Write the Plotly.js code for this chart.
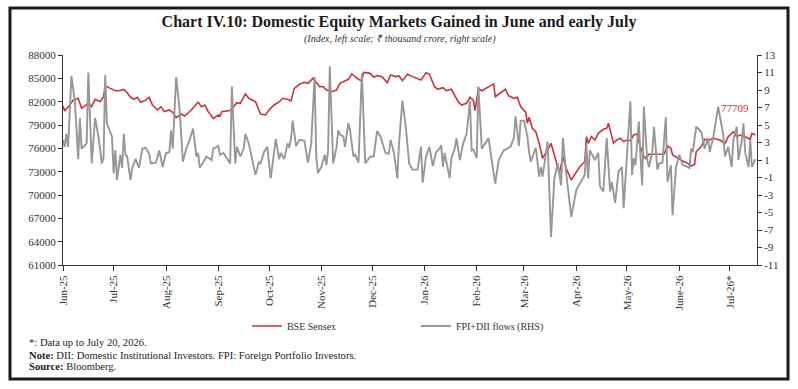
<!DOCTYPE html>
<html>
<head>
<meta charset="utf-8">
<script src="https://cdn.plot.ly/plotly-3.0.1.min.js"></script>
<style>
  html, body { margin: 0; padding: 0; background: #fff; }
  #chart { width: 798px; height: 389px; }
</style>
</head>
<body>
<div id="chart"></div>
<script>
// BSE Sensex, daily close (index, left scale)
const sensexDates = [
  '2025-06-01','2025-06-02','2025-06-05','2025-06-07','2025-06-10','2025-06-12','2025-06-16','2025-06-18','2025-06-20','2025-06-23',
  '2025-06-25','2025-06-26','2025-06-29','2025-07-02','2025-07-04','2025-07-07','2025-07-09','2025-07-11','2025-07-13','2025-07-15',
  '2025-07-17','2025-07-20','2025-07-22','2025-07-24','2025-07-27','2025-07-29','2025-07-31','2025-08-03','2025-08-05','2025-08-07',
  '2025-08-10','2025-08-12','2025-08-16','2025-08-20','2025-08-22','2025-08-24','2025-08-26','2025-08-29','2025-09-01','2025-09-02',
  '2025-09-03','2025-09-08','2025-09-10','2025-09-12','2025-09-14','2025-09-17','2025-09-19','2025-09-23','2025-09-26','2025-09-29',
  '2025-10-01','2025-10-04','2025-10-07','2025-10-09','2025-10-12','2025-10-14','2025-10-16','2025-10-19','2025-10-22','2025-10-24',
  '2025-10-27','2025-10-28','2025-10-31','2025-11-02','2025-11-04','2025-11-07','2025-11-10','2025-11-12','2025-11-15','2025-11-17',
  '2025-11-19','2025-11-23','2025-11-25','2025-11-26','2025-11-30','2025-12-02','2025-12-04','2025-12-07','2025-12-10','2025-12-12',
  '2025-12-15','2025-12-17','2025-12-19','2025-12-22','2025-12-25','2025-12-28','2025-12-30','2026-01-02','2026-01-04','2026-01-07',
  '2026-01-09','2026-01-12','2026-01-14','2026-01-17','2026-01-20','2026-01-21','2026-01-23','2026-01-26','2026-01-28','2026-01-30',
  '2026-01-31','2026-02-02','2026-02-04','2026-02-08','2026-02-11','2026-02-12','2026-02-15','2026-02-18','2026-02-20','2026-02-23',
  '2026-02-25','2026-02-27','2026-03-02','2026-03-03','2026-03-04','2026-03-06','2026-03-08','2026-03-09','2026-03-10','2026-03-12',
  '2026-03-14','2026-03-15','2026-03-17','2026-03-19','2026-03-21','2026-03-22','2026-03-24','2026-03-26','2026-03-29','2026-04-01',
  '2026-04-03','2026-04-06','2026-04-07','2026-04-08','2026-04-10','2026-04-12','2026-04-14','2026-04-17','2026-04-19','2026-04-20',
  '2026-04-23','2026-04-25','2026-04-27','2026-04-29','2026-05-01','2026-05-03','2026-05-05','2026-05-07','2026-05-08','2026-05-11',
  '2026-05-12','2026-05-14','2026-05-17','2026-05-21','2026-05-23','2026-05-25','2026-05-27','2026-05-28','2026-05-31','2026-06-03',
  '2026-06-06','2026-06-08','2026-06-10','2026-06-11','2026-06-14','2026-06-16','2026-06-19','2026-06-21','2026-06-25','2026-06-28',
  '2026-06-30','2026-07-03','2026-07-05','2026-07-07','2026-07-10','2026-07-13','2026-07-14','2026-07-16'
];
const sensexValues = [
  81440,80800,81570,82200,82430,81150,81790,81360,82300,82000,
  82640,84060,83710,83410,83410,83580,83150,82560,82300,82560,
  81920,82200,82560,81570,80930,81360,80720,80930,80590,79940,
  80410,80160,80930,81920,81360,81570,80720,79860,80290,80160,
  80720,80850,81360,81870,81790,82990,82430,82000,80410,80290,
  80930,81570,81960,82430,82300,82090,83710,84230,84490,84320,
  85000,84750,83930,83930,83500,83280,83500,84360,84700,84870,
  85560,84870,84660,85770,85640,85130,85350,85220,84440,85430,
  85220,85300,84700,85520,85220,85000,84790,85730,85520,83930,
  83590,83800,83420,83590,82300,82000,81570,81790,82560,82200,
  80840,83710,83410,83930,84280,82640,83070,83590,82730,82430,
  82560,81360,80650,79220,79990,78570,78140,77500,76650,74720,
  75360,75790,76650,75140,73860,72790,74930,73430,71930,73000,
  73640,74280,77500,76650,77500,77070,77930,78450,78570,79220,
  76650,77070,77290,76860,77070,76980,77710,77840,76860,74930,
  74720,75230,75230,75230,75270,76300,76000,75140,74720,74370,
  74070,73730,73940,75570,76220,77160,77070,77290,77070,76650,
  77500,78140,77500,77710,77500,77160,77930,77709
];

// Net FPI + DII flows (₹ thousand crore, right scale)
const flowDates = [
  '2025-06-01','2025-06-02','2025-06-03','2025-06-04','2025-06-06','2025-06-08','2025-06-10','2025-06-11','2025-06-12','2025-06-15',
  '2025-06-16','2025-06-18','2025-06-20','2025-06-22','2025-06-24','2025-06-25','2025-06-26','2025-06-27','2025-06-30','2025-07-01',
  '2025-07-02','2025-07-03','2025-07-05','2025-07-06','2025-07-07','2025-07-08','2025-07-09','2025-07-11','2025-07-12','2025-07-14',
  '2025-07-16','2025-07-18','2025-07-20','2025-07-22','2025-07-23','2025-07-26','2025-07-28','2025-07-30','2025-08-01','2025-08-03',
  '2025-08-04','2025-08-05','2025-08-07','2025-08-09','2025-08-11','2025-08-13','2025-08-15','2025-08-17','2025-08-19','2025-08-20',
  '2025-08-21','2025-08-25','2025-08-28','2025-08-29','2025-09-01','2025-09-02','2025-09-04','2025-09-08','2025-09-09','2025-09-11',
  '2025-09-12','2025-09-14','2025-09-16','2025-09-17','2025-09-19','2025-09-22','2025-09-23','2025-09-25','2025-09-26','2025-09-28',
  '2025-09-30','2025-10-02','2025-10-05','2025-10-07','2025-10-08','2025-10-10','2025-10-12','2025-10-13','2025-10-14','2025-10-15',
  '2025-10-17','2025-10-19','2025-10-22','2025-10-24','2025-10-26','2025-10-28','2025-10-29','2025-10-30','2025-11-01','2025-11-03',
  '2025-11-04','2025-11-05','2025-11-06','2025-11-08','2025-11-10','2025-11-11','2025-11-12','2025-11-14','2025-11-15','2025-11-17',
  '2025-11-18','2025-11-20','2025-11-21','2025-11-23','2025-11-25','2025-11-27','2025-11-30','2025-12-02','2025-12-04','2025-12-06',
  '2025-12-09','2025-12-11','2025-12-12','2025-12-14','2025-12-16','2025-12-17','2025-12-19','2025-12-21','2025-12-23','2025-12-25',
  '2025-12-28','2025-12-30','2025-12-31','2026-01-02','2026-01-04','2026-01-06','2026-01-08','2026-01-10','2026-01-11','2026-01-12',
  '2026-01-13','2026-01-16','2026-01-17','2026-01-19','2026-01-20','2026-01-22','2026-01-23','2026-01-24','2026-01-26','2026-01-28',
  '2026-01-29','2026-01-30','2026-02-01','2026-02-02','2026-02-04','2026-02-06','2026-02-08','2026-02-10','2026-02-12','2026-02-14',
  '2026-02-17','2026-02-19','2026-02-21','2026-02-23','2026-02-24','2026-02-26','2026-02-27','2026-03-01','2026-03-03','2026-03-04',
  '2026-03-05','2026-03-08','2026-03-10','2026-03-11','2026-03-12','2026-03-15','2026-03-17','2026-03-19','2026-03-21','2026-03-23',
  '2026-03-24','2026-03-26','2026-03-29','2026-04-01','2026-04-04','2026-04-06','2026-04-07','2026-04-08','2026-04-09','2026-04-12',
  '2026-04-14','2026-04-15','2026-04-17','2026-04-19','2026-04-21','2026-04-22','2026-04-24','2026-04-26','2026-04-28','2026-04-29',
  '2026-05-01','2026-05-03','2026-05-04','2026-05-05','2026-05-06','2026-05-08','2026-05-09','2026-05-10','2026-05-11','2026-05-13',
  '2026-05-14','2026-05-16','2026-05-17','2026-05-19','2026-05-20','2026-05-22','2026-05-24','2026-05-25','2026-05-27','2026-05-28',
  '2026-05-30','2026-06-01','2026-06-03','2026-06-05','2026-06-07','2026-06-08','2026-06-09','2026-06-11','2026-06-14','2026-06-16',
  '2026-06-18','2026-06-19','2026-06-21','2026-06-24','2026-06-27','2026-06-28','2026-06-30','2026-07-02','2026-07-03','2026-07-05',
  '2026-07-06','2026-07-08','2026-07-09','2026-07-10','2026-07-12','2026-07-13','2026-07-14','2026-07-15','2026-07-16'
];
const flowValues = [
  3.3,2.5,4.0,2.5,10.6,7.7,1.1,5.8,2.3,2.9,
  11.0,0.6,5.8,3.7,0.6,1.2,10.7,5.2,3.7,-0.5,
  2.1,-1.3,1.6,0.1,4.0,1.6,1.4,-1.3,0.1,1.1,
  0.1,2.3,2.4,1.7,0.6,0.7,2.1,0.2,1.8,1.9,
  4.4,2.3,10.5,6.9,0.8,2.3,3.3,4.6,1.4,1.8,
  0.1,1.4,1.0,2.3,2.6,1.6,1.8,0.6,9.4,0.6,
  2.5,1.4,2.3,4.0,2.9,-0.1,-0.7,0.8,0.6,1.9,
  2.5,-1.1,3.4,1.1,1.8,1.1,2.9,2.4,3.4,5.5,
  2.6,3.3,3.2,0.7,2.9,10.5,1.4,-0.5,0.2,1.6,
  0.4,2.1,11.7,0.6,2.5,4.4,3.9,3.7,2.5,5.2,
  4.4,1.4,1.6,0.7,10.9,0.6,1.4,1.4,4.3,3.7,
  1.8,1.7,3.3,1.8,-1.1,2.9,7.8,4.8,0.6,-0.1,
  -0.1,2.5,-1.6,1.4,2.5,0.3,1.9,2.3,2.7,0.2,
  1.8,-1.1,1.2,2.3,3.5,1.0,2.2,2.9,4.0,7.7,
  2.1,2.2,1.2,9.4,2.3,2.9,3.5,0.8,-1.7,1.0,
  2.1,2.3,2.5,3.5,6.0,2.6,5.5,5.5,3.7,1.9,
  0.8,2.4,-0.9,0.2,-0.9,3.1,-7.8,-1.1,0.6,-1.9,
  3.5,-0.5,-5.5,-2.4,-1.3,-0.7,2.7,-1.1,2.1,1.0,
  1.8,-2.0,-2.6,3.5,-2.6,-1.5,-3.9,-0.3,0.2,-4.5,
  1.6,7.7,-0.7,1.2,0.4,5.4,1.4,-1.9,7.1,1.0,
  0.2,1.9,4.8,-0.1,0.6,0.7,5.9,-1.5,0.4,-5.3,
  0.1,1.6,0.4,0.3,0.1,2.3,1.9,4.8,4.2,2.3,
  3.5,1.9,3.5,7.1,3.9,1.4,2.5,0.2,3.3,4.8,
  1.0,3.3,5.2,1.9,0.2,3.3,0.2,0.7,1.1
];

// Month ticks along the time axis
const monthTicks = [
  '2025-06-01','2025-07-01','2025-08-01','2025-09-01','2025-10-01','2025-11-01','2025-12-01',
  '2026-01-01','2026-02-01','2026-03-01','2026-04-01','2026-05-01','2026-06-01','2026-07-01'
];
const monthLabels = [
  'Jun-25','Jul-25','Aug-25','Sep-25','Oct-25','Nov-25','Dec-25',
  'Jan-26','Feb-26','Mar-26','Apr-26','May-26','June-26','Jul-26*'
];

// Right-scale ticks, written with a plain hyphen for negatives
const flowTicks = [-11,-9,-7,-5,-3,-1,1,3,5,7,9,11,13];
const flowTickLabels = flowTicks.map(v => String(v));

const FONT = 'Liberation Serif, Times New Roman, serif';
const RED = '#c8343e';
const GREY = '#979797';

const lastIdx = sensexValues.length - 1;

const traces = [
  {
    x: flowDates, y: flowValues, yaxis: 'y2',
    type: 'scatter', mode: 'lines',
    name: 'FPI+DII flows (RHS)',
    line: { color: GREY, width: 1.9 },
    legendrank: 2
  },
  {
    x: sensexDates, y: sensexValues, yaxis: 'y',
    type: 'scatter', mode: 'lines',
    name: 'BSE Sensex',
    line: { color: RED, width: 1.6 },
    legendrank: 1
  }
];

const layout = {
  width: 798, height: 389,
  margin: { l: 63, r: 41, t: 55, b: 124, pad: 0 },
  paper_bgcolor: '#ffffff', plot_bgcolor: '#ffffff',
  font: { family: FONT, size: 11, color: '#333333' },
  title: {
    text: '<b>Chart IV.10: Domestic Equity Markets Gained in June and early July</b>',
    font: { family: FONT, size: 16, color: '#1a1a1a' },
    x: 0.5, xref: 'container', xanchor: 'center',
    y: 0.946, yref: 'container', yanchor: 'middle'
  },
  showlegend: true,
  legend: {
    orientation: 'h',
    x: 0.2650, xanchor: 'left',
    y: -0.2905, yanchor: 'middle',
    font: { family: FONT, size: 10, color: '#333333' },
    entrywidth: 124, entrywidthmode: 'pixels',
    bgcolor: 'rgba(0,0,0,0)', borderwidth: 0,
    traceorder: 'normal'
  },
  xaxis: {
    type: 'date',
    range: ['2025-06-01', '2026-07-17'],
    tickvals: monthTicks, ticktext: monthLabels,
    tickangle: -90,
    ticks: 'outside', ticklen: 5, tickcolor: '#333333', tickwidth: 1,
    showline: true, linecolor: '#333333', linewidth: 1,
    showgrid: false, zeroline: false,
    tickfont: { family: FONT, size: 11, color: '#333333' },
    fixedrange: true
  },
  yaxis: {
    range: [61000, 88000],
    tick0: 61000, dtick: 3000, tickformat: 'd',
    ticks: 'outside', ticklen: 4, tickcolor: '#333333',
    showline: true, linecolor: '#333333', linewidth: 1,
    showgrid: false, zeroline: false,
    tickfont: { family: FONT, size: 11, color: '#333333' },
    fixedrange: true
  },
  yaxis2: {
    overlaying: 'y', side: 'right',
    range: [-11, 13],
    tickmode: 'array', tickvals: flowTicks, ticktext: flowTickLabels,
    ticks: 'outside', ticklen: 4, tickcolor: '#333333',
    showline: true, linecolor: '#333333', linewidth: 1,
    showgrid: false, zeroline: false,
    tickfont: { family: FONT, size: 11, color: '#333333' },
    fixedrange: true
  },
  annotations: [
    {
      text: '<i>(Index, left scale; ₹ thousand crore, right scale)</i>',
      xref: 'paper', yref: 'paper', x: 0.4856, y: 1.0762,
      xanchor: 'center', yanchor: 'middle', showarrow: false,
      font: { family: FONT, size: 10, color: '#333333' }
    },
    {
      text: String(sensexValues[lastIdx]),
      x: sensexDates[lastIdx], y: sensexValues[lastIdx],
      xref: 'x', yref: 'y', xanchor: 'right', yanchor: 'middle',
      xshift: -4, yshift: 27, showarrow: false,
      font: { family: FONT, size: 11, color: RED }
    },
    {
      text: '*: Data up to July 20, 2026.',
      xref: 'paper', yref: 'paper', x: -0.0519, y: -0.3714,
      xanchor: 'left', yanchor: 'middle', showarrow: false, align: 'left',
      font: { family: FONT, size: 10.6, color: '#222222' }
    },
    {
      text: '<b>Note:</b> DII: Domestic Institutional Investors. FPI: Foreign Portfolio Investors.',
      xref: 'paper', yref: 'paper', x: -0.0519, y: -0.4286,
      xanchor: 'left', yanchor: 'middle', showarrow: false, align: 'left',
      font: { family: FONT, size: 10.6, color: '#222222' }
    },
    {
      text: '<b>Source:</b> Bloomberg.',
      xref: 'paper', yref: 'paper', x: -0.0519, y: -0.4833,
      xanchor: 'left', yanchor: 'middle', showarrow: false, align: 'left',
      font: { family: FONT, size: 10.6, color: '#222222' }
    }
  ],
  shapes: [
    {
      type: 'rect', xref: 'paper', yref: 'paper',
      x0: -0.0764, x1: 1.0447, y0: -0.5429, y1: 1.2238,
      line: { color: '#1a1a1a', width: 3 }, fillcolor: 'rgba(0,0,0,0)',
      layer: 'above'
    }
  ]
};

Plotly.newPlot('chart', traces, layout, { displayModeBar: false, staticPlot: true });
</script>
</body>
</html>
